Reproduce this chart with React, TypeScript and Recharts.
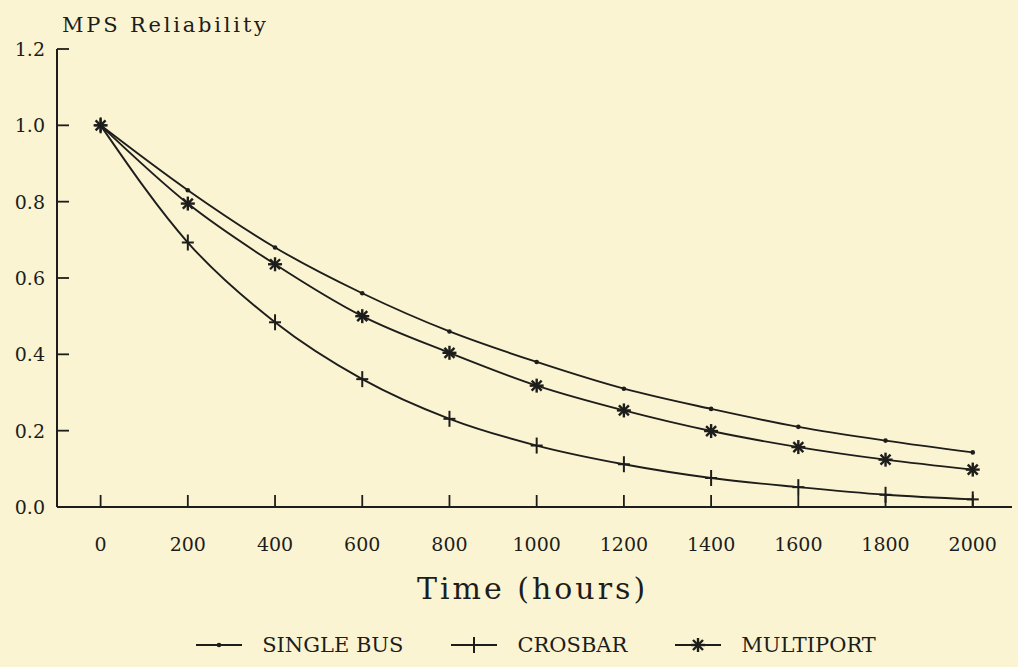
import React from 'react';
import { LineChart, Line, XAxis, YAxis, Legend } from 'recharts';

const hours = [0, 200, 400, 600, 800, 1000, 1200, 1400, 1600, 1800, 2000];
const singleBus = [1.0, 0.83, 0.68, 0.56, 0.46, 0.38, 0.31, 0.257, 0.21, 0.174, 0.143];
const crosbar = [1.0, 0.693, 0.484, 0.335, 0.231, 0.161, 0.112, 0.076, 0.052, 0.032, 0.02];
const multiport = [1.0, 0.795, 0.636, 0.5, 0.404, 0.318, 0.253, 0.199, 0.157, 0.124, 0.098];
const yTicks = [0, 0.2, 0.4, 0.6, 0.8, 1.0, 1.2];
const seriesKeys = ['singleBus', 'crosbar', 'multiport'] as const;
const seriesNames: Record<string, string> = { singleBus: 'SINGLE BUS', crosbar: 'CROSBAR', multiport: 'MULTIPORT' };

const data = hours.map((h, i) => ({
  hours: h,
  singleBus: singleBus[i],
  crosbar: crosbar[i],
  multiport: multiport[i],
}));

const INK = '#1d1d1b';
const BG = '#fbf4d3';
const SERIF = '"DejaVu Serif", "Liberation Serif", serif';

const DotMark = ({ cx, cy }: any) => <circle cx={cx} cy={cy} r={2.3} fill={INK} />;
const PlusMark = ({ cx, cy }: any) => (
  <g stroke={INK} strokeWidth={2}>
    <line x1={cx - 6} x2={cx + 6} y1={cy} y2={cy} />
    <line x1={cx} x2={cx} y1={cy - 8} y2={cy + 8} />
  </g>
);
const StarMark = ({ cx, cy }: any) => (
  <g stroke={INK} strokeWidth={2.4}>
    <line x1={cx - 7} x2={cx + 7} y1={cy} y2={cy} />
    <line x1={cx} x2={cx} y1={cy - 7} y2={cy + 7} />
    <line x1={cx - 5} x2={cx + 5} y1={cy - 5} y2={cy + 5} />
    <line x1={cx - 5} x2={cx + 5} y1={cy + 5} y2={cy - 5} />
  </g>
);

const markers: Record<string, any> = { singleBus: DotMark, crosbar: PlusMark, multiport: StarMark };

const XTick = ({ x, y, payload }: any) => (
  <text x={x} y={y} textAnchor="middle" dominantBaseline="hanging" fontFamily={SERIF} fontSize={19} fill={INK}>
    {payload.value}
  </text>
);

const YTick = ({ x, y, payload }: any) => (
  <text x={x} y={y} textAnchor="end" dominantBaseline="central" fontFamily={SERIF} fontSize={19} fill={INK}>
    {Number(payload.value).toFixed(1)}
  </text>
);

const LegendContent = () => (
  <div style={{ display: 'flex', justifyContent: 'center', alignItems: 'center', height: 30, paddingLeft: 54, boxSizing: 'border-box' }}>
    {seriesKeys.map((k, i) => {
      const M = markers[k];
      return (
        <div key={k} style={{ display: 'flex', alignItems: 'center', marginLeft: i === 0 ? 0 : 48 }}>
          <svg width={46} height={20}>
            <line x1={0} x2={46} y1={10} y2={10} stroke={INK} strokeWidth={1.8} />
            <M cx={23} cy={10} />
          </svg>
          <span style={{ marginLeft: 20, fontFamily: SERIF, fontSize: 21, color: INK }}>{seriesNames[k]}</span>
        </div>
      );
    })}
  </div>
);

export default function App() {
  return (
    <div style={{ position: 'absolute', left: 0, top: 0, width: 1018, height: 667, background: BG }}>
      <LineChart width={1018} height={667} data={data} margin={{ top: 49, right: 6, left: 7, bottom: 30 }}>
        <XAxis
          dataKey="hours"
          type="number"
          domain={[-100, 2090]}
          ticks={hours}
          height={100}
          tickSize={-12}
          tickMargin={42}
          tick={<XTick />}
          axisLine={{ stroke: INK, strokeWidth: 2 }}
          tickLine={{ stroke: INK, strokeWidth: 1.8 }}
          label={{
            content: (props: any) => {
              const vb = props.viewBox;
              return (
                <text x={vb.x + vb.width / 2 - 2} y={vb.y + 92} textAnchor="middle" fontFamily={SERIF} fontSize={30} letterSpacing={3} fill={INK}>
                  Time (hours)
                </text>
              );
            },
          }}
        />
        <YAxis
          type="number"
          domain={[0, 1.2]}
          ticks={yTicks}
          width={50}
          tickSize={-12}
          tickMargin={24}
          tick={<YTick />}
          axisLine={{ stroke: INK, strokeWidth: 2 }}
          tickLine={{ stroke: INK, strokeWidth: 1.8 }}
          label={{
            content: (props: any) => {
              const vb = props.viewBox;
              return (
                <text x={vb.x + vb.width + 5} y={vb.y - 17} fontFamily={SERIF} fontSize={21} letterSpacing={2.8} fill={INK}>
                  MPS Reliability
                </text>
              );
            },
          }}
        />
        <Legend
          verticalAlign="bottom"
          content={<LegendContent />}
          wrapperStyle={{ position: 'absolute', top: 630, left: 0, width: 1018, height: 30 }}
        />
        {seriesKeys.map((k) => (
          <Line
            key={k}
            dataKey={k}
            name={seriesNames[k]}
            type="monotone"
            stroke={INK}
            strokeWidth={1.9}
            dot={markers[k]}
            activeDot={false}
            isAnimationActive={false}
          />
        ))}
      </LineChart>
    </div>
  );
}
